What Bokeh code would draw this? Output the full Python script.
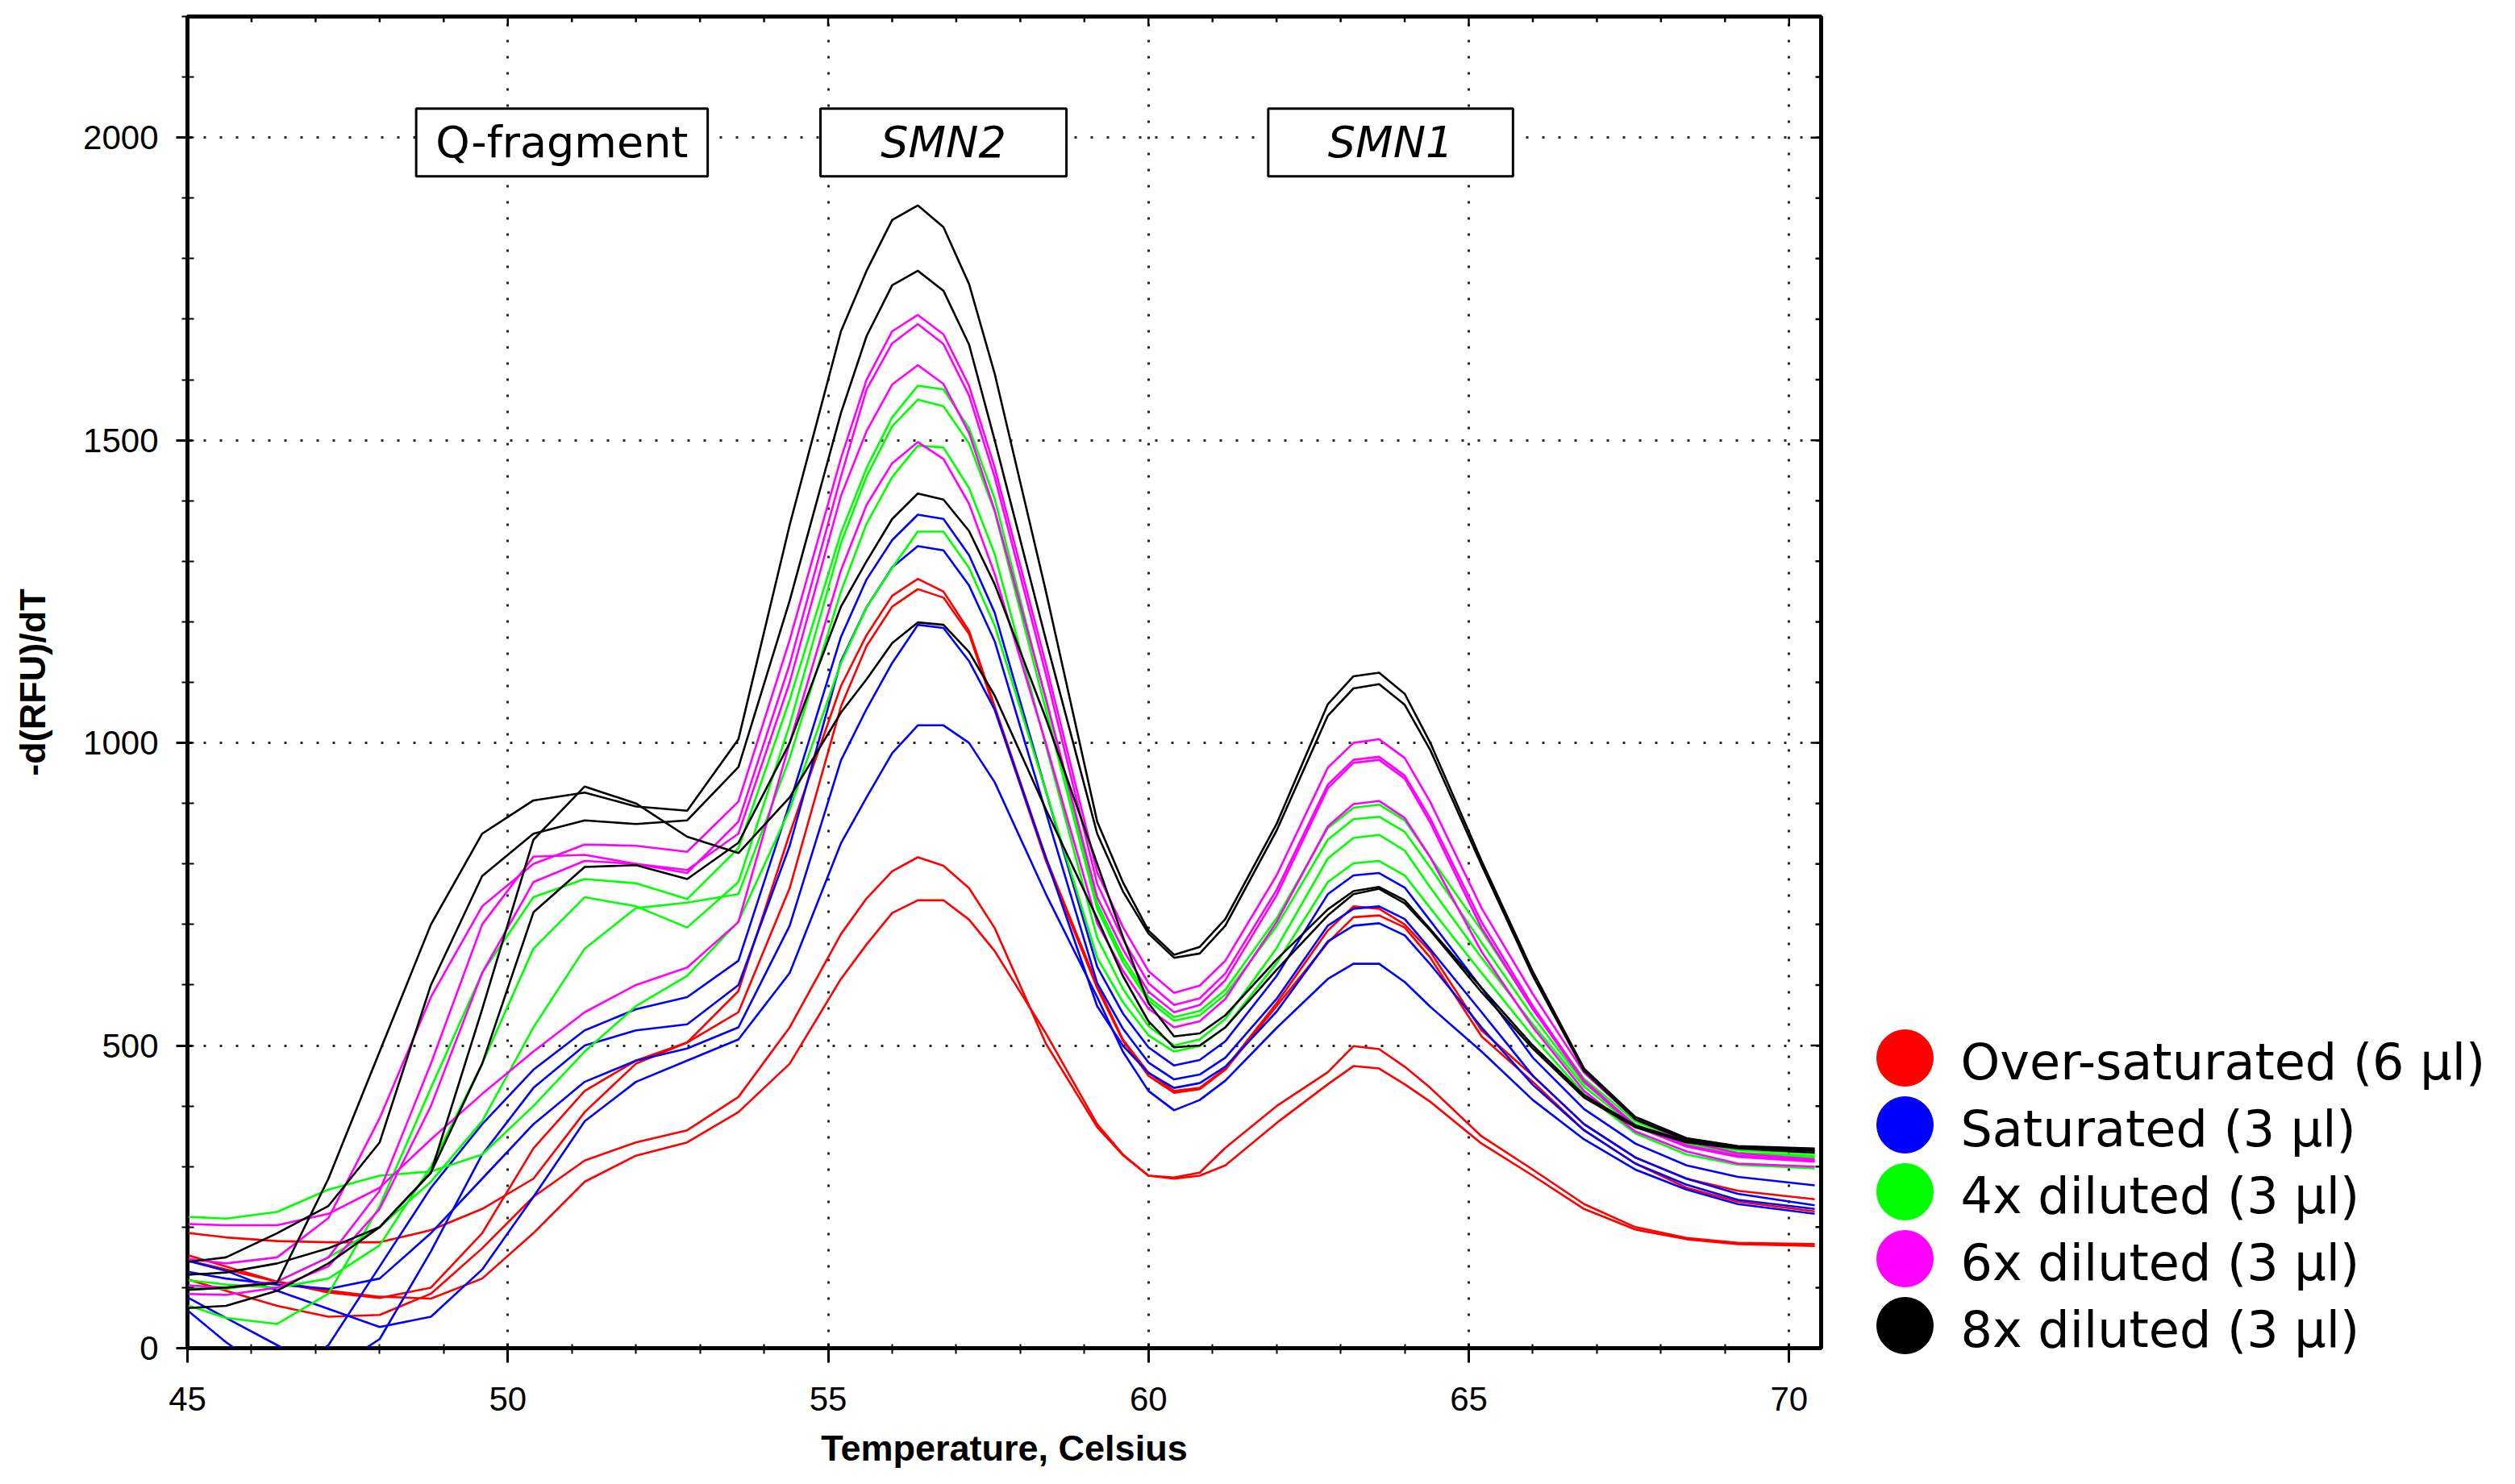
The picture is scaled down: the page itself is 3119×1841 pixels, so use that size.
from bokeh.plotting import figure
from bokeh.models import Range1d, SingleIntervalTicker
from bokeh.layouts import row
from bokeh.embed import file_html
from bokeh.resources import INLINE
from bokeh.core.properties import value

# ---------------- data ----------------
temperature = [44.8, 45.6, 46.4, 47.2, 48.0, 48.8, 49.6, 50.4, 51.2, 52.0, 52.8, 53.6,
               54.4, 55.2, 55.6, 56.0, 56.4, 56.8, 57.2, 57.6, 58.4, 59.2, 59.6, 60.0,
               60.4, 60.8, 61.2, 62.0, 62.8, 63.2, 63.6, 64.0, 64.4, 65.2, 66.0, 66.8,
               67.6, 68.4, 69.2, 70.4]

over_saturated_1 = [193, 183, 177, 175, 175, 195, 230, 280, 390, 470, 505, 590, 850, 1094, 1178, 1243, 1271, 1250, 1185, 1060, 810, 600, 510, 455, 425, 430, 462, 570, 690, 730, 726, 700, 655, 525, 450, 370, 315, 280, 260, 246]
over_saturated_2 = [160, 135, 110, 92, 83, 100, 190, 330, 425, 475, 505, 555, 760, 1060, 1160, 1225, 1254, 1240, 1180, 1055, 805, 595, 508, 450, 422, 428, 460, 565, 670, 712, 715, 695, 645, 515, 440, 360, 305, 265, 242, 226]
over_saturated_3 = [120, 95, 70, 52, 55, 90, 165, 250, 310, 340, 360, 415, 530, 684, 743, 788, 811, 797, 760, 694, 503, 365, 319, 285, 282, 290, 331, 400, 456, 499, 494, 465, 430, 350, 295, 238, 200, 182, 174, 172]
over_saturated_4 = [150, 130, 110, 95, 85, 82, 115, 190, 275, 318, 340, 390, 470, 610, 667, 719, 740, 740, 708, 656, 520, 370, 320, 285, 280, 285, 302, 372, 436, 466, 462, 436, 407, 338, 285, 230, 196, 180, 172, 169]

saturated_1 = [80, 10, -50, 5, 135, 265, 370, 460, 525, 560, 580, 640, 900, 1175, 1270, 1335, 1377, 1370, 1310, 1215, 920, 630, 553, 497, 467, 476, 507, 615, 750, 781, 785, 761, 706, 595, 480, 395, 338, 302, 283, 269]
saturated_2 = [95, 50, 5, -40, 15, 160, 320, 430, 500, 525, 535, 600, 830, 1135, 1224, 1290, 1325, 1318, 1260, 1168, 885, 603, 528, 472, 444, 452, 480, 577, 698, 726, 730, 709, 659, 555, 450, 370, 315, 280, 255, 236]
saturated_3 = [130, 115, 105, 98, 115, 190, 280, 370, 440, 475, 495, 530, 698, 971, 1056, 1132, 1195, 1190, 1135, 1055, 810, 565, 500, 455, 430, 438, 465, 556, 672, 698, 702, 682, 634, 530, 435, 360, 305, 270, 245, 230]
saturated_4 = [150, 128, 95, 65, 35, 52, 130, 250, 375, 440, 475, 510, 620, 834, 910, 983, 1029, 1029, 1000, 935, 750, 580, 490, 425, 393, 410, 442, 529, 610, 635, 635, 605, 564, 490, 410, 345, 295, 262, 238, 222]

diluted4x_1 = [78, 50, 40, 90, 235, 430, 620, 745, 775, 768, 742, 826, 1071, 1347, 1454, 1538, 1590, 1584, 1520, 1403, 1070, 735, 646, 580, 547, 557, 592, 710, 859, 893, 898, 872, 811, 690, 560, 445, 375, 340, 327, 322]
diluted4x_2 = [115, 105, 100, 115, 170, 300, 470, 660, 745, 730, 695, 770, 1030, 1330, 1440, 1523, 1567, 1556, 1495, 1382, 1054, 726, 638, 574, 541, 550, 584, 697, 840, 874, 878, 853, 794, 670, 548, 438, 370, 337, 323, 318]
diluted4x_3 = [100, 98, 110, 150, 200, 275, 375, 530, 660, 727, 736, 750, 975, 1250, 1362, 1439, 1491, 1488, 1421, 1312, 995, 678, 594, 532, 500, 510, 544, 661, 809, 843, 848, 822, 761, 645, 535, 432, 366, 334, 320, 315]
diluted4x_4 = [218, 214, 225, 262, 285, 292, 320, 400, 490, 565, 615, 705, 890, 1132, 1224, 1289, 1349, 1349, 1289, 1194, 920, 645, 572, 517, 490, 499, 530, 636, 770, 801, 805, 781, 727, 620, 515, 420, 355, 320, 303, 297]

diluted6x_1 = [150, 140, 150, 215, 380, 580, 730, 800, 832, 830, 820, 903, 1170, 1470, 1600, 1680, 1707, 1675, 1590, 1455, 1130, 786, 696, 623, 587, 599, 640, 781, 959, 1000, 1006, 975, 902, 727, 585, 455, 378, 342, 322, 312]
diluted6x_2 = [105, 100, 110, 150, 260, 470, 700, 812, 815, 800, 785, 870, 1130, 1440, 1584, 1660, 1692, 1659, 1574, 1439, 1113, 767, 676, 603, 567, 578, 619, 757, 931, 972, 977, 946, 875, 704, 565, 442, 368, 335, 318, 310]
diluted6x_3 = [90, 88, 100, 135, 230, 400, 620, 770, 805, 800, 790, 850, 1100, 1408, 1515, 1592, 1624, 1593, 1512, 1384, 1073, 745, 659, 589, 555, 567, 608, 748, 925, 967, 972, 941, 868, 694, 560, 440, 366, 333, 316, 308]
diluted6x_4 = [206, 203, 203, 222, 265, 345, 420, 490, 555, 600, 629, 704, 1000, 1285, 1393, 1462, 1497, 1469, 1395, 1279, 999, 702, 624, 561, 530, 540, 577, 704, 862, 899, 904, 876, 811, 655, 530, 425, 358, 325, 305, 300]

diluted8x_1 = [95, 100, 108, 280, 490, 700, 850, 905, 918, 895, 888, 1006, 1360, 1680, 1780, 1864, 1888, 1852, 1758, 1610, 1250, 870, 770, 690, 650, 663, 709, 866, 1064, 1110, 1116, 1081, 1000, 805, 622, 462, 382, 347, 334, 330]
diluted8x_2 = [140, 150, 190, 235, 340, 600, 780, 850, 872, 866, 872, 960, 1235, 1545, 1672, 1756, 1780, 1747, 1658, 1500, 1170, 850, 755, 685, 645, 652, 698, 855, 1045, 1090, 1097, 1063, 988, 798, 615, 458, 378, 344, 332, 328]
diluted8x_3 = [65, 70, 95, 140, 200, 290, 470, 720, 795, 798, 775, 835, 1000, 1225, 1300, 1370, 1412, 1402, 1350, 1262, 1040, 800, 680, 570, 515, 520, 550, 642, 725, 755, 762, 740, 692, 595, 500, 418, 368, 342, 332, 326]
diluted8x_4 = [120, 125, 140, 165, 200, 290, 560, 840, 928, 900, 845, 818, 910, 1050, 1105, 1165, 1199, 1195, 1150, 1078, 890, 710, 615, 540, 497, 500, 530, 625, 715, 750, 759, 735, 690, 588, 495, 414, 365, 340, 330, 323]

series_labels = ["Over-saturated (6 µl)", "Saturated (3 µl)", "4x diluted (3 µl)",
                 "6x diluted (3 µl)", "8x diluted (3 µl)"]
series_colors = ["#FF0000", "#0000FF", "#00FF00", "#FF00FF", "#000000"]
series_curves = [
    [over_saturated_1, over_saturated_2, over_saturated_3, over_saturated_4],
    [saturated_1, saturated_2, saturated_3, saturated_4],
    [diluted4x_1, diluted4x_2, diluted4x_3, diluted4x_4],
    [diluted6x_1, diluted6x_2, diluted6x_3, diluted6x_4],
    [diluted8x_1, diluted8x_2, diluted8x_3, diluted8x_4],
]

peak_labels = ["Q-fragment", "SMN2", "SMN1"]
peak_label_left = [48.57, 54.88, 61.87]
peak_label_right = [53.12, 58.72, 65.69]
peak_label_styles = ["normal", "italic", "italic"]

# ---------------- main figure ----------------
TICK_FONT = "Liberation Sans"
BOX_FONT = "DejaVu Sans"
X0, X1, Y0, Y1 = 45, 70.5, 0, 2200
FW, FH = 2026, 1652          # frame size in px
BL, BR, BT, BB = 232, 42, 20, 153

p = figure(width=BL + FW + BR, height=BT + FH + BB,
           x_range=Range1d(X0, X1), y_range=Range1d(Y0, Y1),
           output_backend="svg", toolbar_location=None,
           min_border_left=BL, min_border_right=BR, min_border_top=BT, min_border_bottom=BB)
p.outline_line_color = "black"
p.outline_line_width = 5
p.background_fill_color = "white"

xa = p.xaxis[0]
xa.ticker = SingleIntervalTicker(interval=5, num_minor_ticks=5)
xa.axis_label = "Temperature, Celsius"
ya = p.yaxis[0]
ya.ticker = SingleIntervalTicker(interval=500, num_minor_ticks=5)
ya.axis_label = "-d(RFU)/dT"

for ax in (xa, ya):
    ax.axis_line_width = 3
    ax.axis_line_color = "black"
    ax.major_tick_line_width = 3
    ax.minor_tick_line_width = 2
    ax.major_label_text_font = TICK_FONT
    ax.major_label_text_font_size = "42px"
    ax.major_label_text_color = "black"
    ax.axis_label_text_font = TICK_FONT
    ax.axis_label_text_font_size = "45px"
    ax.axis_label_text_font_style = "bold"
    ax.axis_label_text_color = "black"

xa.major_tick_in = 6
xa.major_tick_out = 18
xa.minor_tick_in = 5
xa.minor_tick_out = 7
xa.major_label_standoff = 30
xa.axis_label_standoff = 18

ya.major_tick_in = 6
ya.major_tick_out = 14
ya.minor_tick_in = 8
ya.minor_tick_out = 7
ya.major_label_standoff = 22
ya.axis_label_standoff = 34

p.grid.grid_line_color = "black"
p.grid.grid_line_dash = "3 17"
p.grid.grid_line_width = 3
p.grid.grid_line_alpha = 0.85

# inward tick marks on the top and right frame edges
px_y = (Y1 - Y0) / FH
px_x = (X1 - X0) / FW
top_ticks = list(range(X0 + 1, 71))
top_len = [(12 if t % 5 == 0 else 7) * px_y for t in top_ticks]
p.segment(x0=top_ticks, y0=[Y1] * len(top_ticks), x1=top_ticks,
          y1=[Y1 - l for l in top_len], line_color="black", line_width=2.5)
right_ticks = list(range(100, Y1, 100))
right_len = [(13 if t % 500 == 0 else 7) * px_x for t in right_ticks]
p.segment(x0=[X1] * len(right_ticks), y0=right_ticks,
          x1=[X1 - l for l in right_len], y1=right_ticks, line_color="black", line_width=2.5)

for color, curves in zip(series_colors, series_curves):
    for curve in curves:
        p.line(temperature, curve, line_color=color, line_width=2.6)

# annotation boxes
p.quad(left=peak_label_left, right=peak_label_right, bottom=1936, top=2048,
       fill_color="white", line_color="black", line_width=3)
for lab, l, r, st in zip(peak_labels, peak_label_left, peak_label_right, peak_label_styles):
    p.text(x=[(l + r) / 2], y=[1992], text=[lab], text_font=value(BOX_FONT),
           text_font_size="54px", text_font_style=st, text_align="center",
           text_baseline="middle", text_color="black")

# ---------------- legend panel ----------------
LW, LH = 803, BT + FH + BB
p2 = figure(width=LW, height=LH, x_range=Range1d(0, LW),
            output_backend="svg", toolbar_location=None, min_border=0,
            x_axis_type=None, y_axis_type=None)
aligned = True
try:
    p2.frame_align = False
    aligned = False
except Exception:
    aligned = True
# data y == page y (page has an 8px margin)
if aligned:
    p2.y_range = Range1d(8 + BT + FH, 8 + BT)
    shift = -8
else:
    p2.y_range = Range1d(8 + LH, 8)
    shift = 0
p2.outline_line_color = None
p2.grid.visible = False
leg_y = [1320 + 83 * i + shift for i in range(len(series_labels))]
p2.scatter(x=[62] * len(series_labels), y=leg_y, size=70, fill_color=series_colors,
           line_color=series_colors)
p2.text(x=[131] * len(series_labels), y=[v + 5 for v in leg_y], text=series_labels,
        text_font=value(BOX_FONT), text_font_size="62px", text_align="left",
        text_baseline="middle", text_color="black")

layout = row(p, p2)
open("out.html", "w").write(file_html(layout, INLINE))
